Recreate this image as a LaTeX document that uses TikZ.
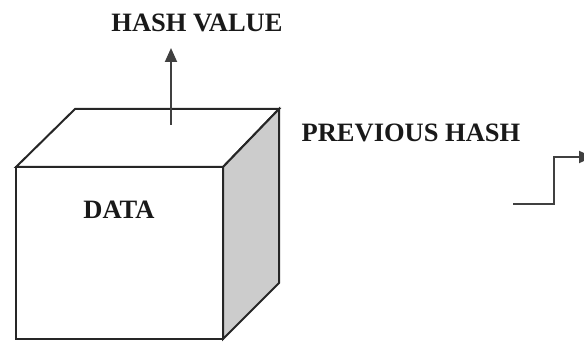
\documentclass[tikz,border=0pt]{standalone}
\usepackage{fontspec}
\setmainfont{Liberation Serif}
\usetikzlibrary{arrows.meta}

\begin{document}
\begin{tikzpicture}[x=1pt,y=-1pt,
    edge/.style={black!85,line width=2pt,line join=miter},
    link/.style={black!75,line width=1.8pt,-{Triangle[length=14pt,width=12pt]}},
    caption/.style={font=\fontsize{26.5}{30}\selectfont\bfseries,text=black!90,inner sep=0pt}]
\useasboundingbox (0,0) rectangle (584,342);
% cube corners
\coordinate (FTL) at (16,167);
\coordinate (FTR) at (223,167);
\coordinate (FBL) at (16,339);
\coordinate (FBR) at (223,339);
\coordinate (BTL) at (75,109);
\coordinate (BTR) at (279,109);
\coordinate (BBR) at (279,283);

% faces
\draw[edge,fill=white] (FTL) -- (BTL) -- (BTR) -- (FTR) -- cycle;
\draw[edge,fill=black!20] (FTR) -- (BTR) -- (BBR) -- (FBR) -- cycle;
\draw[edge,fill=white] (FTL) -- (FTR) -- (FBR) -- (FBL) -- cycle;

% labels
\node[caption] (data) at (119,210) {DATA};
\node[caption] (hash) at (197,23) {HASH VALUE};
\node[caption] (prev) at (411,133) {PREVIOUS HASH};

% arrows
\coordinate (hs) at (171,125);
\coordinate (he) at (171,48);
\draw[link] (hs) -- (he);
\coordinate (ps) at (513,204);
\coordinate (pe) at (593,157);
\draw[link] (ps) -| (554,157) -- (pe);
\end{tikzpicture}
\end{document}
